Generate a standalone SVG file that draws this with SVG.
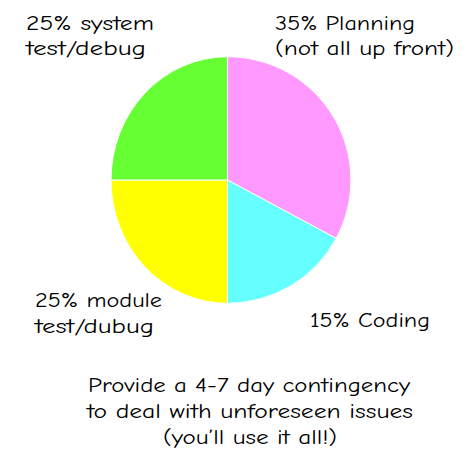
<svg xmlns="http://www.w3.org/2000/svg" width="470" height="453" viewBox="0 0 470 453">
<style>
.t{font-family:"Comic Sans MS","Comic Neue","Liberation Sans",sans-serif;font-size:21px;fill:#000}
.c{text-anchor:middle}
.s{stroke:#fff;stroke-width:1}
</style>
<rect width="470" height="453" fill="#fff"/>
<g id="pie">
<path id="planning" class="s" fill="#FF99FF" d="M227.5,180 L227.5,56.7 A123.5,123.3 0 0 1 336.2,238.4 Z"/>
<path id="coding" class="s" fill="#66FFFF" d="M227.5,180 L336.2,238.4 A123.5,123.3 0 0 1 227.5,303.3 Z"/>
<path id="module" class="s" fill="#FFFF00" d="M227.5,180 L227.5,303.3 A116.5,123.3 0 0 1 111,180 Z"/>
<path id="system" class="s" fill="#66FF33" d="M227.5,180 L111,180 A116.5,123.3 0 0 1 227.5,56.7 Z"/>
</g>
<g id="labels">
<text class="t" x="26" y="30" textLength="128" lengthAdjust="spacingAndGlyphs">25% system</text>
<text class="t" x="26" y="55" textLength="120" lengthAdjust="spacingAndGlyphs">test/debug</text>
<text class="t" x="275" y="30" textLength="140" lengthAdjust="spacingAndGlyphs">35% Planning</text>
<text class="t" x="275" y="55" textLength="179" lengthAdjust="spacingAndGlyphs">(not all up front)</text>
<text class="t" x="35" y="307" textLength="127" lengthAdjust="spacingAndGlyphs">25% module</text>
<text class="t" x="35" y="333" textLength="119" lengthAdjust="spacingAndGlyphs">test/dubug</text>
<text class="t" x="310" y="327" textLength="120" lengthAdjust="spacingAndGlyphs">15% Coding</text>
<text class="t" x="88" y="392" textLength="322" lengthAdjust="spacingAndGlyphs">Provide a 4-7 day contingency</text>
<text class="t" x="87" y="418" textLength="326" lengthAdjust="spacingAndGlyphs">to deal with unforeseen issues</text>
<text class="t" x="163" y="444" textLength="174" lengthAdjust="spacingAndGlyphs">(you’ll use it all!)</text>
</g>
</svg>
